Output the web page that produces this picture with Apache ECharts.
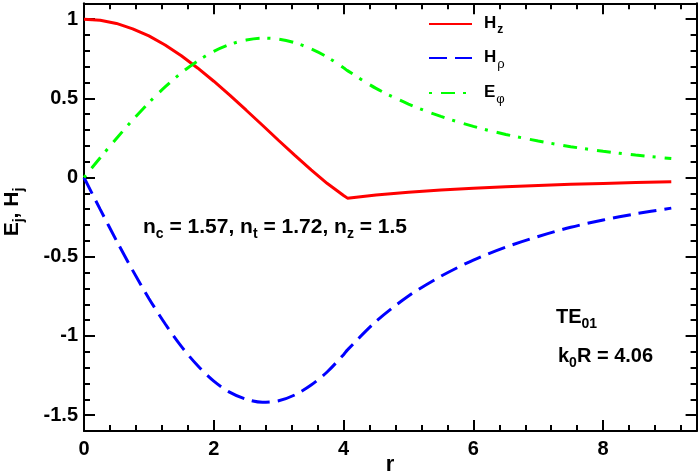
<!DOCTYPE html>
<html>
<head>
<meta charset="utf-8">
<script src="https://cdn.jsdelivr.net/npm/echarts/dist/echarts.min.js"></script>
<style>
html, body { margin: 0; padding: 0; background: #fff; }
#wrap { position: relative; width: 698px; height: 475px; }
#plot, #text { position: absolute; left: 0; top: 0; width: 698px; height: 475px; }
</style>
</head>
<body>
<div id="wrap">
    <div id="plot"></div>
    <div id="text"></div>
</div>
<script>
// 取样点 r
var rVals = [0, 0.25, 0.5, 0.75, 1, 1.25, 1.5, 1.75, 2, 2.25, 2.5, 2.75, 3, 3.25, 3.5, 3.75, 4, 4.06, 4.5, 5, 5.5, 6, 6.5, 7, 7.5, 8, 8.5, 9.05];
// 各场分量
var hzVals = [1, 0.993, 0.973, 0.939, 0.894, 0.837, 0.769, 0.692, 0.608, 0.519, 0.425, 0.330, 0.234, 0.140, 0.048, -0.038, -0.113, -0.13, -0.110, -0.093, -0.079, -0.068, -0.058, -0.050, -0.043, -0.037, -0.032, -0.027];
var hrhoVals = [0, -0.201, -0.398, -0.586, -0.763, -0.923, -1.066, -1.187, -1.285, -1.356, -1.40, -1.419, -1.409, -1.372, -1.31, -1.226, -1.118, -1.088, -0.908, -0.748, -0.623, -0.521, -0.439, -0.372, -0.314, -0.268, -0.229, -0.193];
var ephiVals = [0, 0.125, 0.247, 0.363, 0.473, 0.572, 0.661, 0.736, 0.797, 0.841, 0.868, 0.880, 0.874, 0.851, 0.812, 0.760, 0.693, 0.675, 0.563, 0.464, 0.386, 0.323, 0.272, 0.231, 0.195, 0.166, 0.142, 0.12];
// 刻度
var yMajor = [-1.5, -1, -0.5, 0, 0.5, 1];

var X_MIN = 0, X_MAX = 9.44, Y_MIN = -1.6, Y_MAX = 1.1;
var FONT = 'Liberation Sans';
var GRID = { left: 84, right: 1.4, top: 3.3, bottom: 44, outerBoundsMode: 'none' };

var seriesStyles = {
    Hz: { color: '#ff0000', width: 3, type: 'solid' },
    Hrho: { color: '#0000ff', width: 3, type: [18, 8] },
    Ephi: { color: '#00ff00', width: 3, type: [3, 9, 14, 8] }
};

function pairs(ys) {
    return rVals.map(function (r, i) { return [r, ys[i]]; });
}

function richSet(size, subSize, subPad) {
    return {
        b: { fontFamily: FONT, fontSize: size, fontWeight: 'bold', color: '#000', lineHeight: size, verticalAlign: 'top' },
        s: { fontFamily: FONT, fontSize: subSize, fontWeight: 'bold', color: '#000', lineHeight: subSize, padding: [subPad, 0, 0, 0], verticalAlign: 'top' }
    };
}

function xAxisDef(pos, major) {
    return {
        type: 'value', min: X_MIN, max: X_MAX, interval: major ? 2 : 0.4, position: pos,
        axisLine: { show: major, onZero: false, lineStyle: { color: '#000', width: 2 } },
        axisTick: { show: true, inside: true, length: major ? 11 : 6, lineStyle: { color: '#000', width: 2 } },
        axisLabel: { show: false },
        splitLine: { show: false }
    };
}

function yAxisDef(pos, major) {
    var ax = {
        type: 'value', min: Y_MIN, max: Y_MAX, position: pos,
        axisLine: { show: major, onZero: false, lineStyle: { color: '#000', width: 2 } },
        axisTick: { show: true, inside: true, length: major ? 11 : 6, lineStyle: { color: '#000', width: 2 } },
        axisLabel: { show: false },
        splitLine: { show: false }
    };
    if (major) {
        ax.axisTick.customValues = yMajor;
    } else {
        ax.interval = 0.1;
    }
    return ax;
}

function lineSeries(name, vals) {
    var st = seriesStyles[name];
    return {
        name: name, type: 'line', data: vals ? pairs(vals) : [],
        smooth: name === 'Hz' ? false : 0.3, symbol: 'none',
        lineStyle: { color: st.color, width: st.width, type: st.type },
        itemStyle: { color: st.color }
    };
}

// 图层一: 坐标框, 刻度, 曲线
var plotChart = echarts.init(document.getElementById('plot'));
plotChart.setOption({
    animation: false,
    backgroundColor: '#fff',
    grid: GRID,
    xAxis: [xAxisDef('bottom', true), xAxisDef('bottom', false), xAxisDef('top', true), xAxisDef('top', false)],
    yAxis: [yAxisDef('left', true), yAxisDef('left', false), yAxisDef('right', true), yAxisDef('right', false)],
    series: [lineSeries('Hz', hzVals), lineSeries('Hrho', hrhoVals), lineSeries('Ephi', ephiVals)]
});

// 图层二: 刻度标签, 图例, 文字
var legendNames = { Hz: '{b|H}{s|z}', Hrho: '{b|H}{g|ρ}', Ephi: '{b|E}{g|φ}' };

var textChart = echarts.init(document.getElementById('text'));
textChart.setOption({
    animation: false,
    backgroundColor: 'transparent',
    grid: GRID,
    xAxis: {
        type: 'value', min: X_MIN, max: X_MAX, interval: 2,
        axisLine: { show: false, onZero: false },
        axisTick: { show: false },
        axisLabel: { showMaxLabel: false, fontFamily: FONT, fontSize: 20, fontWeight: 'bold', color: '#000', margin: 8 },
        splitLine: { show: false }
    },
    yAxis: {
        type: 'value', min: Y_MIN, max: Y_MAX,
        axisLine: { show: false, onZero: false },
        axisTick: { show: false },
        axisLabel: { customValues: yMajor, fontFamily: FONT, fontSize: 20, fontWeight: 'bold', color: '#000', margin: 6 },
        splitLine: { show: false }
    },
    legend: {
        orient: 'vertical',
        left: 423,
        top: 10,
        itemWidth: 43,
        itemHeight: 14,
        itemGap: 13,
        data: ['Hz', 'Hrho', 'Ephi'],
        itemStyle: { color: 'rgba(0,0,0,0)', borderColor: 'rgba(0,0,0,0)', borderWidth: 0 },
        formatter: function (name) { return legendNames[name]; },
        textStyle: {
            rich: {
                b: { fontFamily: FONT, fontSize: 17, fontWeight: 'bold', color: '#000', lineHeight: 18, verticalAlign: 'top', padding: [0, 0, 0, 7] },
                s: { fontFamily: FONT, fontSize: 12, fontWeight: 'bold', color: '#000', lineHeight: 12, padding: [9, 0, 0, 1], verticalAlign: 'top' },
                g: { fontFamily: FONT, fontSize: 13, fontWeight: 'normal', color: '#000', lineHeight: 13, padding: [9, 0, 0, 1], verticalAlign: 'top' }
            }
        }
    },
    graphic: [
        // 坐标轴标题
        {
            type: 'text', x: 390, y: 465,
            style: { text: 'r', fontFamily: FONT, fontSize: 22, fontWeight: 'bold', fill: '#000', align: 'center', verticalAlign: 'middle' }
        },
        {
            type: 'text', x: 12, y: 212, rotation: Math.PI / 2,
            style: { text: '{b|E}{s|j}{b|, H}{s|j}', rich: richSet(21, 14, 11), align: 'center', verticalAlign: 'middle' }
        },
        // 注释
        {
            type: 'text', left: 143, top: 217,
            style: { text: '{b|n}{s|c}{b| = 1.57, n}{s|t}{b| = 1.72, n}{s|z}{b| = 1.5}', rich: richSet(21, 14, 10) }
        },
        {
            type: 'text', left: 556, top: 307,
            style: { text: '{b|TE}{s|01}', rich: richSet(20, 14, 10) }
        },
        {
            type: 'text', left: 558, top: 346,
            style: { text: '{b|k}{s|0}{b|R = 4.06}', rich: richSet(20, 14, 10) }
        }
    ],
    // 只为图例提供图标, 无数据
    series: [lineSeries('Hz'), lineSeries('Hrho'), lineSeries('Ephi')]
});
</script>
</body>
</html>
